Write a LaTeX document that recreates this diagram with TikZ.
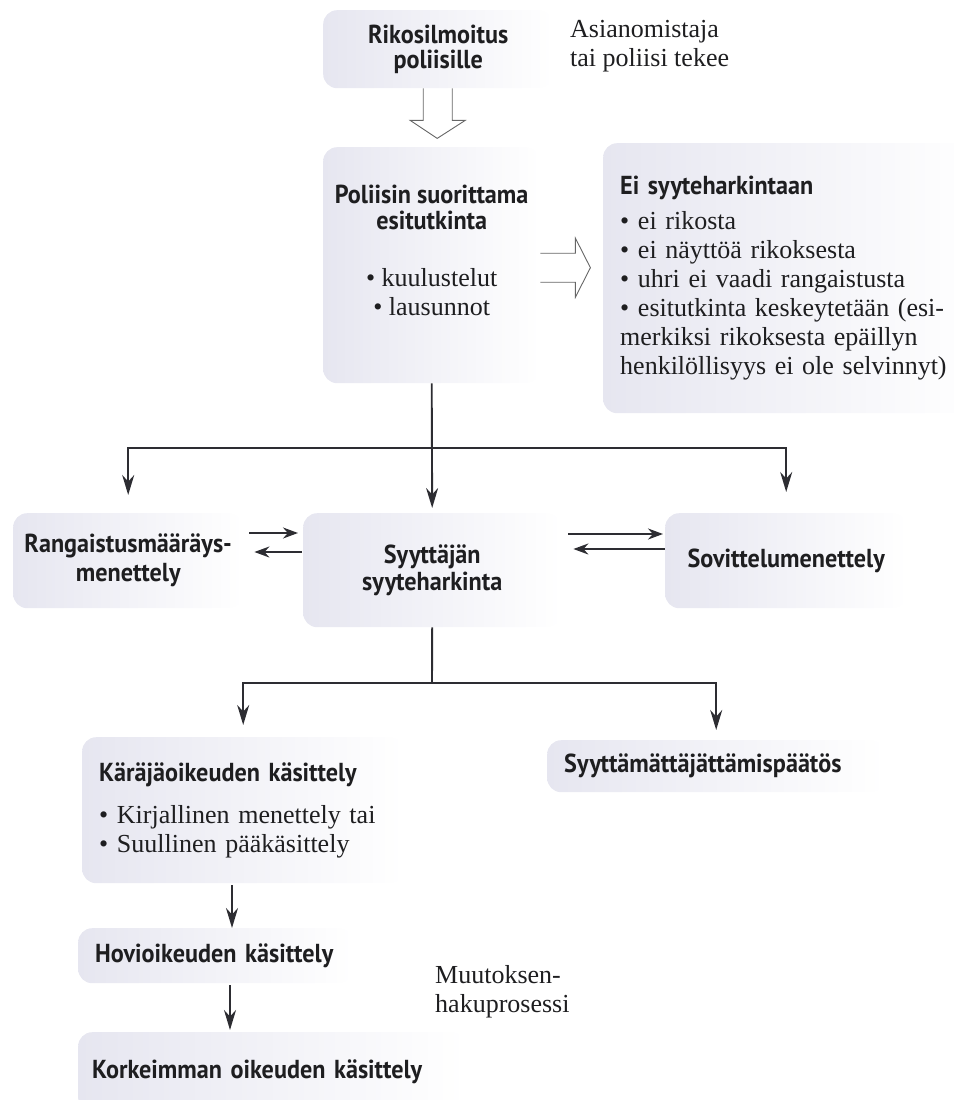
\documentclass[tikz,border=0pt]{standalone}
\usepackage{fontspec}
\setmainfont{Liberation Serif}
\newfontfamily\sansnarrow{PT Sans}[FakeStretch=0.93]
\usepackage{tikz}
\usetikzlibrary{arrows.meta}
\usepackage{xcolor}
\definecolor{boxfill}{RGB}{230,230,240}
\definecolor{linegray}{RGB}{45,45,50}
\definecolor{textblack}{RGB}{30,30,32}
\newcommand{\boxhead}{\sansnarrow\bfseries\fontsize{26}{26}\selectfont}
\newcommand{\boxtext}{\rmfamily\fontsize{26}{29}\selectfont}

\begin{document}
\begin{tikzpicture}[x=1pt,y=-1pt,>={Stealth[length=20pt,width=12pt]}]
\tikzset{
    box/.style={%
        rectangle,
        rounded corners=14pt,
        left color=boxfill, right color=white,
        anchor=north west,
        inner sep=0pt,
        align=center,
        text=textblack,
        font=\boxhead
        },
    listbox/.style={%
        box,
        align=left,
        inner xsep=17pt,
        font=\boxtext
        },
    conn/.style={draw=linegray, line width=1.9pt},
    pairtip/.style={-{Stealth[length=15pt,width=11pt]}},
    hollow/.style={draw=gray!80!black, line width=0.9pt},
}
\useasboundingbox (0,0) rectangle (953,1100);
%%%BOXES
\node[box, minimum width=230pt, minimum height=78pt] (rikos) at (323,10) {Rikosilmoitus\\[-1pt]poliisille};
\node[box, font=\boxtext, minimum width=217pt, minimum height=236pt] (esitutkinta) at (323,147)
    {{\boxhead Poliisin suorittama}\\[-3pt]{\boxhead esitutkinta}\\[28pt]\textbullet{} kuulustelut\\\textbullet{} lausunnot\\~};
\node[listbox, text width=340pt, minimum height=270pt] (eisyyte) at (603,143)
    {{\boxhead Ei syyteharkintaan}\\[6pt]
     \textbullet{} ei rikosta\\
     \textbullet{} ei näyttöä rikoksesta\\
     \textbullet{} uhri ei vaadi rangaistusta\\
     \textbullet{} esitutkinta keskeytetään (esi-\\
     merkiksi rikoksesta epäillyn\\
     henkilöllisyys ei ole selvinnyt)};
\node[box, minimum width=230pt, minimum height=95pt] (rangaistus) at (13,513) {Rangaistusmääräys-\\[3pt]menettely};
\node[box, minimum width=258pt, minimum height=114pt] (syyttaja) at (303,513) {Syyttäjän\\[1pt]syyteharkinta};
\node[box, minimum width=242pt, minimum height=95pt] (sovittelu) at (665,513) {Sovittelumenettely};
\node[listbox, text width=288pt, minimum height=146pt] (karaja) at (82,737)
    {{\boxhead Käräjäoikeuden käsittely}\\[13pt]
     \textbullet{} Kirjallinen menettely tai\\
     \textbullet{} Suullinen pääkäsittely};
\node[listbox, font=\boxhead, text width=304pt, minimum height=52pt] (syyttamatta) at (547,740) {Syyttämättäjättämispäätös};
\node[listbox, font=\boxhead, text width=241pt, minimum height=55pt] (hovi) at (78,928) {Hovioikeuden käsittely};
\node[listbox, font=\boxhead, inner xsep=14pt, text width=360pt, minimum height=80pt] (korkein) at (78,1032) {Korkeimman oikeuden käsittely};
%%%TEXTS
\node[anchor=north west, inner sep=0pt, align=left, text=textblack, font=\boxtext] (tekija) at (570,20) {Asianomistaja\\tai poliisi tekee};
\node[anchor=north west, inner sep=0pt, align=left, text=textblack, font=\boxtext] (muutos) at (435,965) {Muutoksen-\\hakuprosessi};
%%%HOLLOW ARROWS
\draw[hollow] ([xshift=-15pt]rikos.south) -- ++(0,32) -- ++(-13,0) -- ++(27,18) -- ++(28,-18) -- ++(-13,0) -- ++(0,-32);
\draw[hollow] ([yshift=12pt]esitutkinta.east) -- ++(35,0) -- ++(0,-15) -- ++(15,29.5) -- ++(-15,29.5) -- ++(0,-15) -- ++(-35,0);
%%%ARROWS
\coordinate (haara1) at (432,448);
\coordinate (haara2) at (432,683);
\draw[conn, ->, shorten >=5pt] (esitutkinta.south) -- (syyttaja.north);
\draw[conn, ->, shorten >=18pt] (haara1) -| (rangaistus.north);
\draw[conn, ->, shorten >=21pt] (haara1) -| (sovittelu.north);
\draw[conn, pairtip, shorten <=6pt, shorten >=5pt] (rangaistus.east |- 0,533) -- (syyttaja.west |- 0,533);
\draw[conn, pairtip, shorten <=1pt, shorten >=11pt] (syyttaja.west |- 0,552) -- (rangaistus.east |- 0,552);
\draw[conn, pairtip, shorten <=7pt, shorten >=2pt] (syyttaja.east |- 0,534) -- (sovittelu.west |- 0,534);
\draw[conn, pairtip, shorten >=12pt] (sovittelu.west |- 0,549) -- (syyttaja.east |- 0,549);
\draw[conn] (syyttaja.south) -- (haara2);
\draw[conn, ->, shorten >=12pt] (haara2) -| (karaja.north);
\draw[conn, ->, shorten >=10pt] (haara2) -| (syyttamatta.north);
\draw[conn, ->, shorten <=2pt] (karaja.south -| 232,0) -- (hovi.north -| 232,0);
\draw[conn, ->, shorten <=2pt, shorten >=2pt] (hovi.south -| 230,0) -- (korkein.north -| 230,0);
\end{tikzpicture}
\end{document}
